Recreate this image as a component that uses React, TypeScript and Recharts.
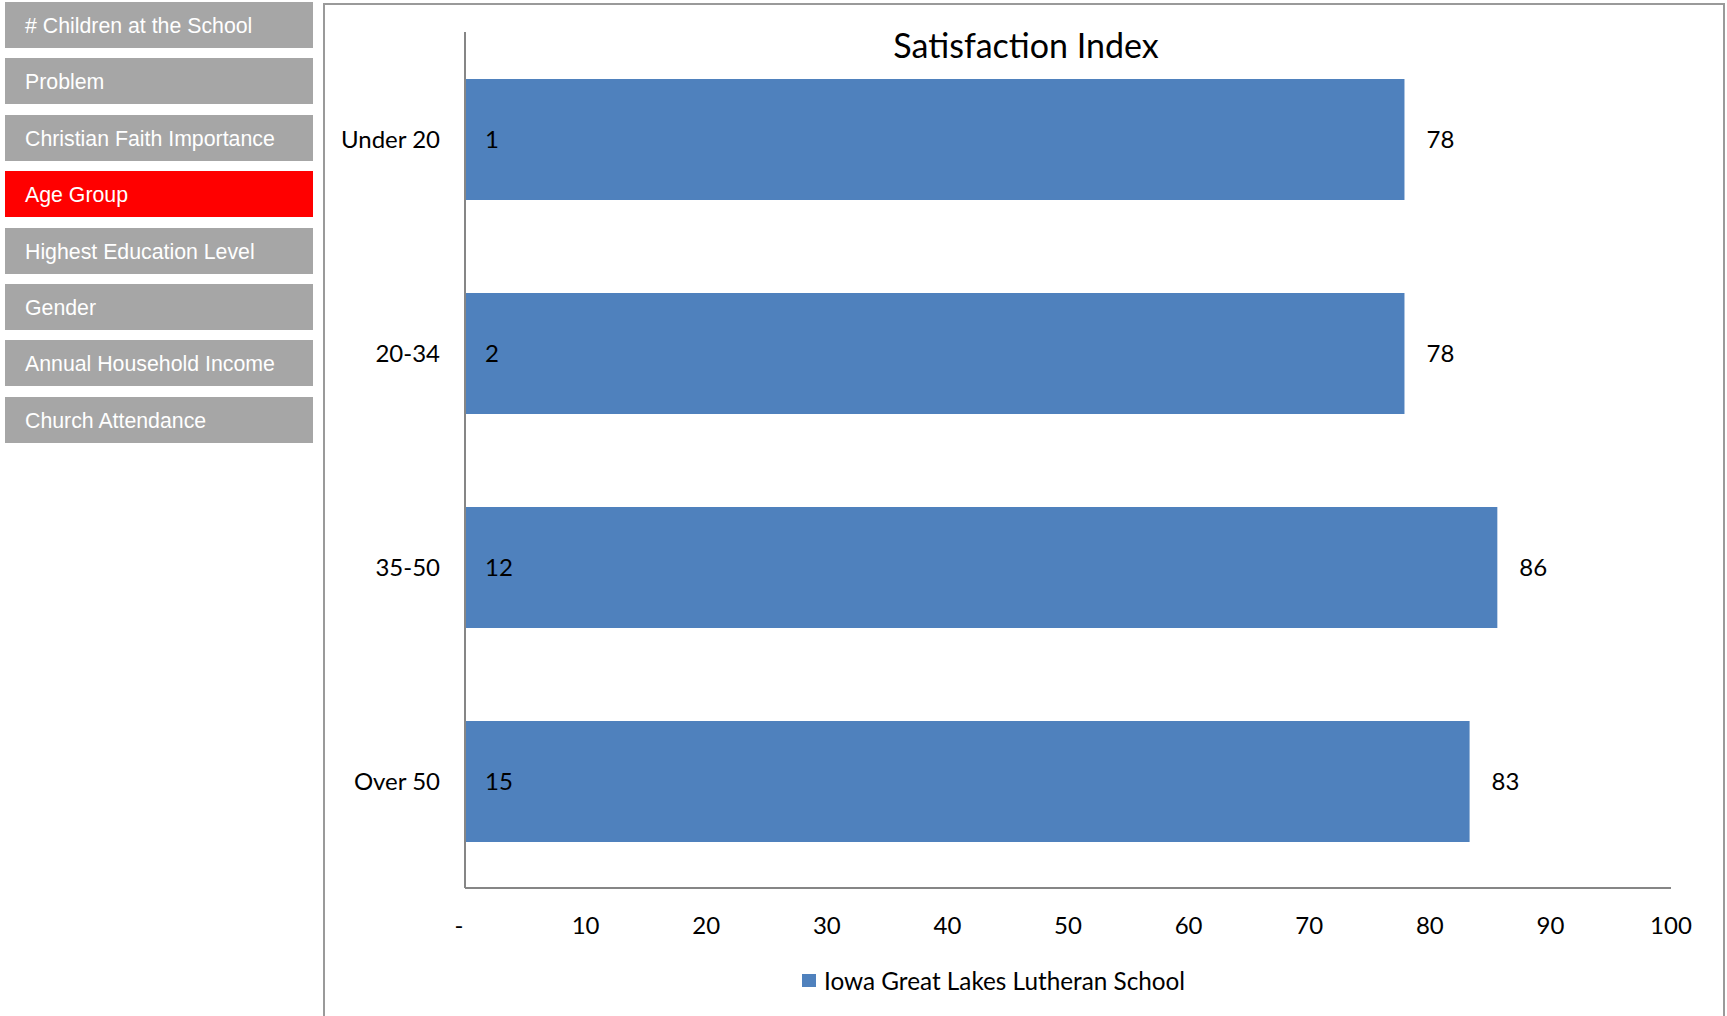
import { BarChart, Bar, XAxis, YAxis, LabelList } from 'recharts';

const menuItems = [
  '# Children at the School',
  'Problem',
  'Christian Faith Importance',
  'Age Group',
  'Highest Education Level',
  'Gender',
  'Annual Household Income',
  'Church Attendance',
];
const activeItem = 'Age Group';

const ageGroups = ['Under 20', '20-34', '35-50', 'Over 50'];
const respondents = [1, 2, 12, 15];
const satisfaction = [77.9, 77.9, 85.6, 83.3];
const xTicks = [0, 10, 20, 30, 40, 50, 60, 70, 80, 90, 100];
const seriesName = 'Iowa Great Lakes Lutheran School';

const data = ageGroups.map((group, i) => ({
  group,
  count: respondents[i],
  value: satisfaction[i],
}));

const BLUE = '#4f81bd';
const AXIS = '#868686';
const labelFont = { fontFamily: 'Lato, sans-serif', fontSize: 24, fill: '#000' };

export default function App() {
  return (
    <div style={{ position: 'absolute', left: 0, top: 0, width: 1727, height: 1016, overflow: 'hidden', background: '#fff' }}>
      {menuItems.map((item, i) => (
        <div
          key={item}
          style={{
            position: 'absolute',
            left: 5,
            top: 2 + i * 56.4,
            width: 308,
            height: 46,
            background: item === activeItem ? '#ff0000' : '#a6a6a6',
            color: '#fff',
            fontFamily: '"Liberation Sans", Arial, sans-serif',
            fontSize: 21.3,
            display: 'flex',
            alignItems: 'center',
            paddingLeft: 20,
            paddingTop: 3,
            boxSizing: 'border-box',
          }}
        >
          {item}
        </div>
      ))}

      <div
        style={{
          position: 'absolute',
          left: 323,
          top: 3,
          width: 1402,
          height: 1100,
          border: '2px solid #9a9a9a',
          boxSizing: 'border-box',
        }}
      />

      <div
        style={{
          position: 'absolute',
          left: 726,
          top: 25,
          width: 600,
          textAlign: 'center',
          fontFamily: 'Lato, sans-serif',
          fontSize: 34,
          lineHeight: 1.2,
          color: '#000',
        }}
      >
        Satisfaction Index
      </div>

      <div style={{ position: 'absolute', left: 0, top: 0 }}>
        <BarChart
          width={1727}
          height={1016}
          data={data}
          layout="vertical"
          margin={{ top: 32, right: 56, left: 325, bottom: 68 }}
        >
          <XAxis
            type="number"
            domain={[0, 100]}
            ticks={xTicks}
            interval={0}
            tickFormatter={(v: number) => (v === 0 ? '-\u00a0\u00a0' : String(v))}
            tick={labelFont}
            tickLine={false}
            tickSize={6}
            tickMargin={23}
            height={60}
            axisLine={{ stroke: AXIS, strokeWidth: 2 }}
          />
          <YAxis
            type="category"
            dataKey="group"
            width={140}
            tick={labelFont}
            tickLine={false}
            tickSize={6}
            tickMargin={19}
            axisLine={{ stroke: AXIS, strokeWidth: 2 }}
          />
          <Bar dataKey="value" fill={BLUE} barSize={121} isAnimationActive={false}>
            <LabelList dataKey="count" position="insideLeft" offset={20} style={labelFont} />
            <LabelList
              dataKey="value"
              position="right"
              offset={22}
              formatter={(v: number) => Math.round(v)}
              style={labelFont}
            />
          </Bar>
        </BarChart>
      </div>

      <div
        style={{
          position: 'absolute',
          left: 802,
          top: 966,
          display: 'flex',
          alignItems: 'center',
          fontFamily: 'Lato, sans-serif',
          fontSize: 24.3,
          lineHeight: 1.2,
          color: '#000',
          whiteSpace: 'nowrap',
        }}
      >
        <span style={{ display: 'inline-block', width: 14, height: 13, background: BLUE, marginRight: 8 }} />
        {seriesName}
      </div>
    </div>
  );
}
